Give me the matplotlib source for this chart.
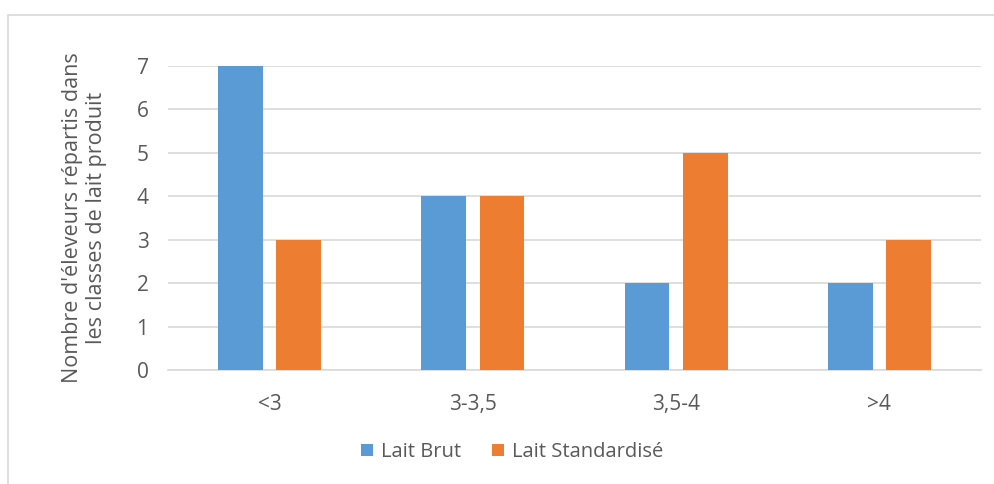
import matplotlib.pyplot as plt
import numpy as np
from matplotlib.patches import Rectangle

# Classes de lait produit
classes = ['<3', '3-3,5', '3,5-4', '>4']
lait_brut = [7, 4, 2, 2]
lait_standardise = [3, 4, 5, 3]

plt.rcParams['font.family'] = ['Open Sans', 'DejaVu Sans']
txt = '#595959'
grid = '#d9d9d9'

fig = plt.figure(figsize=(9.95, 4.84), dpi=100)
ax = fig.add_axes([168 / 995, 114 / 484, 813 / 995, 304 / 484])

# chart border (Excel style)
fig.patches.append(Rectangle((8 / 995, -0.1), 1.2, (484 - 15) / 484 + 0.1,
                             transform=fig.transFigure, fill=False,
                             edgecolor=grid, linewidth=1.2))

x = np.arange(len(classes))
w = 0.22
ax.bar(x - 0.143, lait_brut, w, color='#5b9bd5', label='Lait Brut', zorder=3)
ax.bar(x + 0.143, lait_standardise, w, color='#ed7d31', label='Lait Standardisé', zorder=3)

ax.set_xlim(-0.5, 3.5)
ax.set_ylim(0, 7)
ax.set_yticks(range(0, 8))
ax.set_xticks(x)
ax.set_xticklabels(classes)
ax.yaxis.grid(True, color=grid, linewidth=1.2, zorder=0)
ax.set_axisbelow(True)
for s in ['top', 'right', 'left']:
    ax.spines[s].set_visible(False)
ax.spines['bottom'].set_color(grid)
ax.spines['bottom'].set_linewidth(1.2)
ax.tick_params(axis='both', length=0, labelsize=15, colors=txt)
ax.tick_params(axis='y', pad=14)
ax.tick_params(axis='x', pad=17)

ax.set_ylabel("Nombre d'éleveurs répartis dans\nles classes de lait produit",
              fontsize=15.5, color=txt, labelpad=21, linespacing=1.2)

leg = ax.legend(loc='center', bbox_to_anchor=(512 / 995, 32 / 484),
                bbox_transform=fig.transFigure, ncol=2, frameon=False,
                fontsize=14.5, handlelength=0.6, handleheight=0.6,
                columnspacing=1.5, handletextpad=0.4)
for t in leg.get_texts():
    t.set_color(txt)

fig.savefig('out.png', dpi=100)
